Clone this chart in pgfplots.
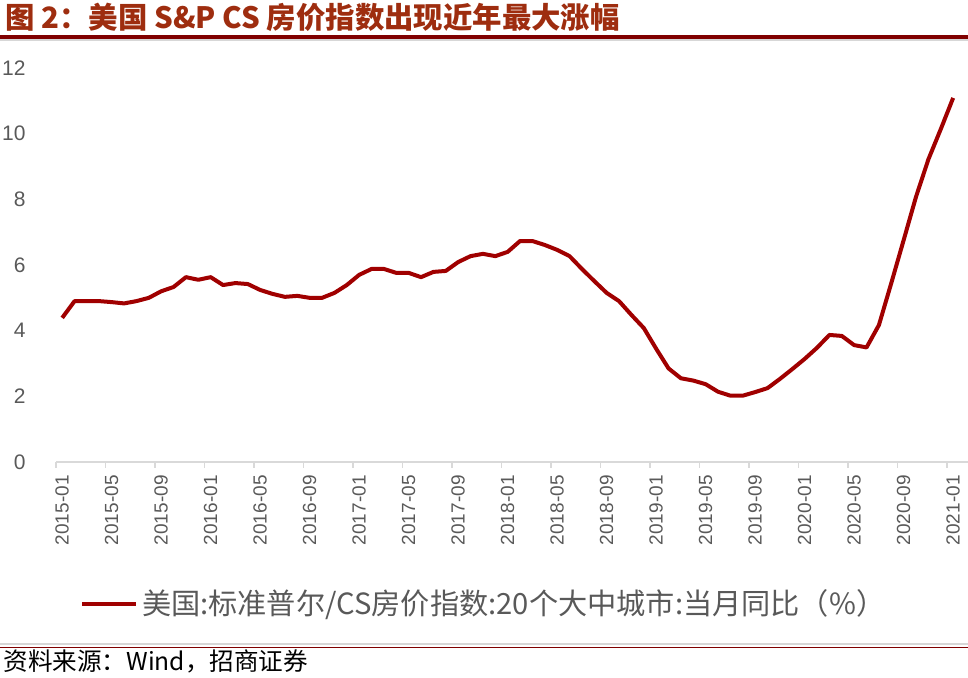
\documentclass[border=0pt]{standalone}
\usepackage{pgfplots}
\pgfplotsset{compat=1.18}
\usepackage{fontspec}
\setmainfont{Liberation Sans}
\newfontfamily\cjk{Noto Sans CJK SC}
\definecolor{series}{RGB}{160,0,0}
\definecolor{titlecol}{RGB}{158,45,15}
\definecolor{rulered}{RGB}{128,0,0}
\definecolor{rulegray}{RGB}{215,215,215}
\definecolor{axisgray}{RGB}{217,217,217}
\definecolor{textgray}{RGB}{89,89,89}
\begin{document}
\begin{tikzpicture}
\useasboundingbox (0,0) rectangle (484pt,338.5pt);
% title
\node[anchor=base west, inner sep=0pt, text=titlecol, font=\cjk\bfseries\fontsize{14.7}{16}\selectfont] at (2.5pt,324.5pt) {图 2：美国 S\&P CS 房价指数出现近年最大涨幅};
\fill[rulered] (0pt,319.2pt) rectangle (484pt,320.8pt);
\fill[rulegray] (0pt,318.0pt) rectangle (484pt,319.0pt);
% bottom rules and source
\fill[rulegray] (0pt,16.0pt) rectangle (484pt,17.0pt);
\fill[rulered] (0pt,14.6pt) rectangle (484pt,15.2pt);
\node[anchor=base west, inner sep=0pt, text=black, font=\cjk\fontsize{12.3}{14}\selectfont] at (1.5pt,3.5pt) {资料来源：Wind，招商证券};
\begin{axis}[
  at={(28pt,107.5pt)}, anchor=south west,
  scale only axis, width=456pt, height=197pt,
  xmin=-0.5, xmax=73.2, ymin=0, ymax=12,
  clip=false,
  /pgf/number format/assume math mode=true,
  axis x line*=bottom, axis y line*=left,
  x axis line style={draw=axisgray, line width=0.75pt, -},
  y axis line style={draw=none},
  ytick={0,2,...,12},
  ytick style={draw=none},
  yticklabel style={anchor=east, inner sep=0pt, xshift=-15pt, text=textgray, font=\fontsize{10.5}{12}\selectfont},
  xtick={0,4,...,72},
  xticklabels={2015-01,2015-05,2015-09,2016-01,2016-05,2016-09,2017-01,2017-05,2017-09,2018-01,2018-05,2018-09,2019-01,2019-05,2019-09,2020-01,2020-05,2020-09,2021-01},
  major tick length=0pt,
  xticklabel style={rotate=90, anchor=east, inner sep=0pt, text=textgray, font=\fontsize{9.5}{11}\selectfont},
  xticklabel shift=6.5pt,
  extra x ticks={-0.5,3.5,...,71.5},
  extra x tick labels={},
  extra x tick style={major tick length=2.8pt, tick align=outside, xtick style={draw=axisgray, line width=0.75pt}},
  legend style={at={(0.470,-0.360)}, anchor=center, draw=none, fill=none, font=\cjk\fontsize{14.6}{16}\selectfont, text=textgray, inner sep=0pt},
  legend image code/.code={\draw[#1, line width=2pt] (0pt,0pt) -- (27pt,0pt);},
]
\addplot[series, line width=2pt, line join=round] coordinates {
(0,4.39)(1,4.90)(2,4.90)(3,4.90)(4,4.87)(5,4.83)(6,4.90)(7,5.00)(8,5.20)(9,5.33)
(10,5.63)(11,5.55)(12,5.63)(13,5.39)(14,5.45)(15,5.42)(16,5.24)(17,5.12)(18,5.03)(19,5.06)
(20,5.00)(21,5.00)(22,5.15)(23,5.39)(24,5.70)(25,5.88)(26,5.88)(27,5.76)(28,5.76)(29,5.63)
(30,5.79)(31,5.82)(32,6.09)(33,6.27)(34,6.34)(35,6.27)(36,6.40)(37,6.73)(38,6.73)(39,6.61)
(40,6.46)(41,6.27)(42,5.88)(43,5.51)(44,5.15)(45,4.90)(46,4.48)(47,4.08)(48,3.45)(49,2.85)
(50,2.55)(51,2.48)(52,2.37)(53,2.14)(54,2.02)(55,2.02)(56,2.13)(57,2.25)(58,2.53)(59,2.83)
(60,3.14)(61,3.48)(62,3.87)(63,3.84)(64,3.56)(65,3.49)(66,4.17)(67,5.45)(68,6.76)(69,8.08)
(70,9.22)(71,10.14)(72,11.09)
};
\addlegendentry{美国:标准普尔/CS房价指数:20个大中城市:当月同比（\%）}
\end{axis}
\end{tikzpicture}
\end{document}
